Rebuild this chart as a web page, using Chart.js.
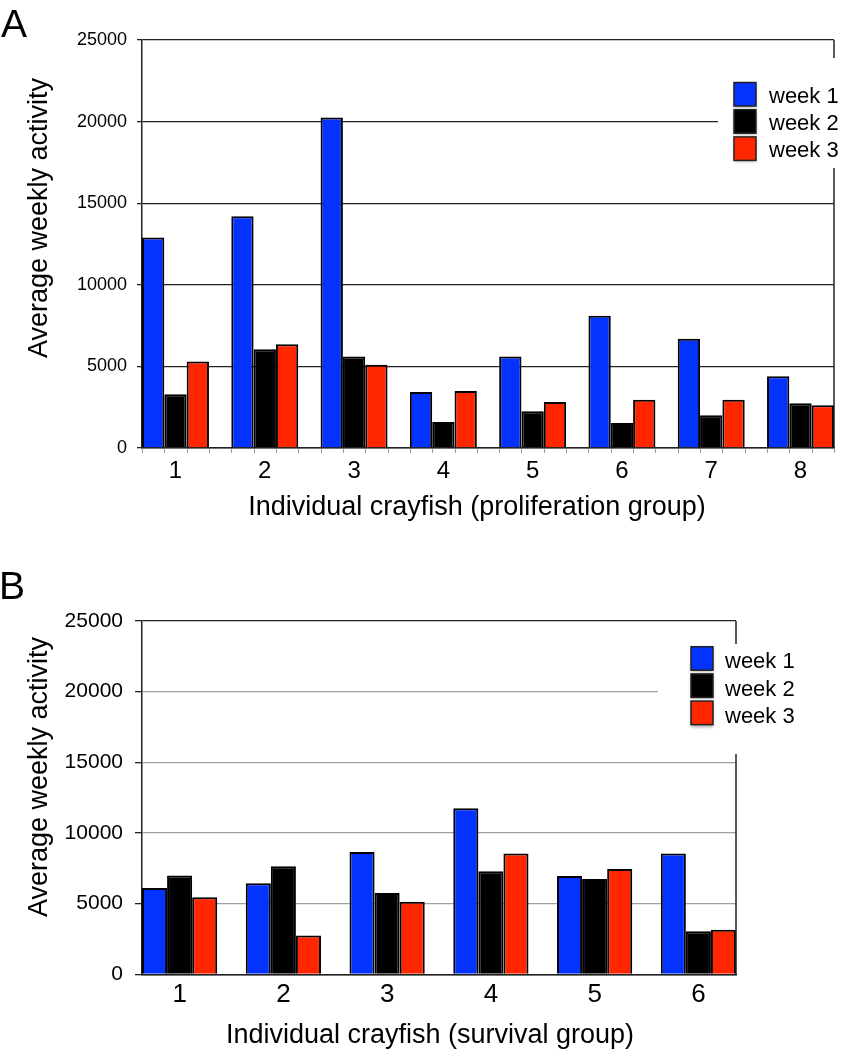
<!DOCTYPE html>
<html>
<head>
<meta charset="utf-8">
<script src="https://cdn.jsdelivr.net/npm/chart.js@4"></script>
<style>
  body { margin: 0; background: #fff; width: 844px; height: 1050px; position: relative; overflow: hidden; }
  canvas { position: absolute; left: 0; }
  .letter { position: absolute; font-family: "Liberation Sans", Arial, sans-serif; font-size: 39px; line-height: 39px; color: #000; z-index: 2; }
</style>
</head>
<body>
<canvas id="chartA" width="844" height="530" style="top:0"></canvas>
<canvas id="chartB" width="844" height="520" style="top:530px"></canvas>
<div class="letter" style="left:1px;top:4px">A</div>
<div class="letter" style="left:-1px;top:566px">B</div>
<script>
// proliferation group (panel A)
const fishA = ['1', '2', '3', '4', '5', '6', '7', '8'];
const week1A = [12900, 14200, 20250, 3430, 5600, 8100, 6700, 4400];
const week2A = [3300, 6050, 5600, 1600, 2250, 1530, 2000, 2740];
const week3A = [5300, 6350, 5100, 3500, 2820, 2950, 2950, 2620];

// survival group (panel B)
const fishB = ['1', '2', '3', '4', '5', '6'];
const week1B = [6100, 6450, 8650, 11750, 6950, 8550];
const week2B = [7000, 7650, 5750, 7300, 6750, 3050];
const week3B = [5450, 2750, 5130, 8550, 7450, 3150];

const yTicks = [0, 5000, 10000, 15000, 20000, 25000];
const weekNames = ['week 1', 'week 2', 'week 3'];
const weekColors = ['#0433ff', '#000000', '#ff2600'];

const FONT = '"Liberation Sans", Arial, sans-serif';

// titles, right frame line, bar-edge marks and the key (drawn over the grid like the original)
const extras = {
    id: 'extras',
    afterDraw(chart, args, o) {
        const ctx = chart.ctx;
        const area = chart.chartArea;
        const xs = chart.scales.x;
        ctx.save();

        ctx.strokeStyle = '#222';
        ctx.lineWidth = 1.5;
        ctx.beginPath();
        ctx.moveTo(area.right, area.top);
        ctx.lineTo(area.right, area.bottom);
        ctx.stroke();

        // little grey marks under the x axis at every bar edge
        if (o.edgeMarks) {
            ctx.strokeStyle = '#999';
            ctx.lineWidth = 1;
            const n = chart.data.datasets[0].data.length;
            const share = o.groupShare;
            for (let i = 0; i < n; i++) {
                for (let j = 0; j <= 3; j++) {
                    const px = Math.round(xs.getPixelForValue(i + 1 - share / 2 + j * share / 3)) + 0.5;
                    ctx.beginPath();
                    ctx.moveTo(px, area.bottom + 1);
                    ctx.lineTo(px, area.bottom + 5);
                    ctx.stroke();
                }
            }
        }

        ctx.fillStyle = '#000';
        ctx.font = '27px ' + FONT;
        ctx.textAlign = 'center';
        ctx.textBaseline = 'alphabetic';
        ctx.fillText(o.xTitle, o.xTitleX, o.xTitleBase);

        ctx.save();
        ctx.translate(o.yTitleBase, o.yTitleMid);
        ctx.rotate(-Math.PI / 2);
        ctx.fillText(o.yTitle, 0, 0);
        ctx.restore();

        // key
        const k = o.key;
        ctx.fillStyle = '#fff';
        ctx.fillRect(k.x, k.y, k.w, k.h);
        chart.data.datasets.forEach((ds, i) => {
            const top = k.boxTop + i * k.step;
            ctx.save();
            ctx.shadowColor = 'rgba(0,0,0,0.35)';
            ctx.shadowBlur = 3;
            ctx.shadowOffsetY = 2;
            ctx.fillStyle = ds.backgroundColor;
            ctx.fillRect(k.boxX, top, 22, 23.5);
            ctx.restore();
            ctx.strokeStyle = '#222';
            ctx.lineWidth = 1.5;
            ctx.strokeRect(k.boxX, top, 22, 23.5);

            ctx.fillStyle = '#000';
            ctx.font = '22px ' + FONT;
            ctx.textAlign = 'left';
            ctx.fillText(ds.label, k.textX, top + k.baseOff);
        });
        ctx.restore();
    }
};

function makeChart(id, fish, weeks, setup) {
    const half = setup.groupShare / 2;
    const xTicks = fish.map((f, i) => i + 1);

    const datasets = weeks.map((vals, i) => ({
        label: weekNames[i],
        data: vals.map((v, n) => ({ x: n + 1, y: v })),
        backgroundColor: weekColors[i],
        borderColor: '#000',
        borderWidth: 2,
        barPercentage: 1,
        categoryPercentage: setup.groupShare
    }));

    setup.extras.groupShare = setup.groupShare;

    return new Chart(document.getElementById(id), {
        type: 'bar',
        data: { datasets },
        plugins: [extras],
        options: {
            responsive: false,
            animation: false,
            layout: { padding: setup.padding },
            plugins: {
                legend: { display: false },
                tooltip: { enabled: false },
                extras: setup.extras
            },
            scales: {
                x: {
                    type: 'linear',
                    offset: false,
                    bounds: 'data',
                    min: 1 - half,
                    max: fish.length + half,
                    afterBuildTicks: s => { s.ticks = xTicks.map(v => ({ value: v })); },
                    afterFit: s => { s.height = setup.xHeight; },
                    border: { color: '#222', width: 1.5 },
                    grid: {
                        offset: false,
                        drawOnChartArea: false,
                        tickLength: 4,
                        tickColor: 'rgba(0,0,0,0)'
                    },
                    ticks: {
                        autoSkip: false,
                        maxRotation: 0,
                        padding: setup.xTickPad,
                        color: '#000',
                        font: { size: setup.xTickSize, family: FONT },
                        callback: v => fish[v - 1]
                    }
                },
                y: {
                    min: 0,
                    max: 25000,
                    afterBuildTicks: s => { s.ticks = yTicks.map(v => ({ value: v })); },
                    afterFit: s => { s.width = 142; },
                    border: { color: '#222', width: 1.5 },
                    grid: {
                        color: c => (c.tick.value === 0 || c.tick.value === 25000) ? '#222' : setup.gridColor,
                        lineWidth: 1.3,
                        tickLength: setup.yTickLen,
                        tickColor: '#222'
                    },
                    ticks: {
                        autoSkip: false,
                        padding: setup.yTickPad,
                        color: '#000',
                        font: { size: setup.yTickSize, family: FONT },
                        callback: v => String(v)
                    }
                }
            }
        }
    });
}

makeChart('chartA', fishA, [week1A, week2A, week3A], {
    groupShare: 0.75,
    padding: { left: 0, top: 40, right: 10, bottom: 0 },
    xHeight: 82,
    xTickPad: 5,
    xTickSize: 24,
    yTickLen: 5,
    yTickPad: 10,
    yTickSize: 18,
    gridColor: '#222',
    extras: {
        edgeMarks: true,
        xTitle: 'Individual crayfish (proliferation group)',
        xTitleX: 477, xTitleBase: 515,
        yTitle: 'Average weekly activity',
        yTitleBase: 47, yTitleMid: 218,
        key: { x: 718, y: 58, w: 126, h: 110, boxX: 734, boxTop: 82.5, step: 27.2, textX: 769, baseOff: 20.5 }
    }
});

makeChart('chartB', fishB, [week1B, week2B, week3B], {
    groupShare: 0.725,
    padding: { left: 0, top: 91, right: 108, bottom: 0 },
    xHeight: 75.7,
    xTickPad: 1,
    xTickSize: 26,
    yTickLen: 7,
    yTickPad: 12,
    yTickSize: 21,
    gridColor: '#a0a0a0',
    extras: {
        edgeMarks: false,
        xTitle: 'Individual crayfish (survival group)',
        xTitleX: 430, xTitleBase: 513,
        yTitle: 'Average weekly activity',
        yTitleBase: 47, yTitleMid: 247,
        key: { x: 658, y: 114, w: 150, h: 110, boxX: 691, boxTop: 116.7, step: 27.2, textX: 725, baseOff: 21.6 }
    }
});
</script>
</body>
</html>
